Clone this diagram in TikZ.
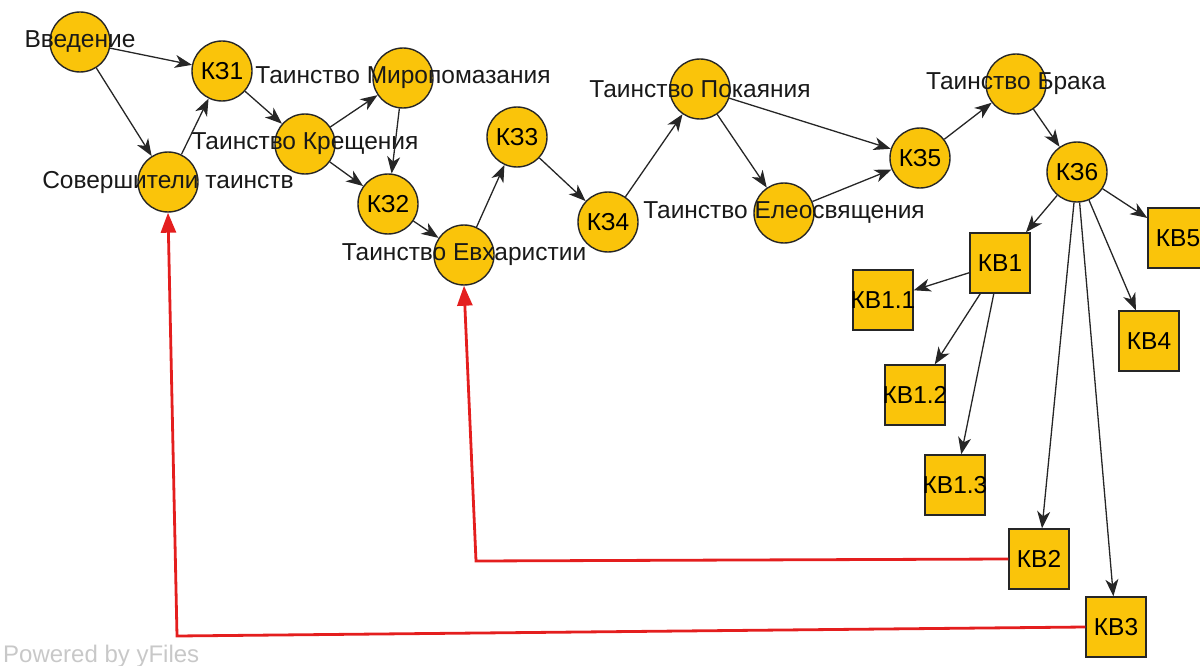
\documentclass[tikz,border=0pt]{standalone}
\usepackage{fontspec}
\setmainfont{Liberation Sans}
\usetikzlibrary{arrows.meta}
\definecolor{zoloto}{RGB}{250,196,10}
\definecolor{krasnyj}{RGB}{228,30,30}
\definecolor{seryj}{RGB}{200,200,200}

\begin{document}
\begin{tikzpicture}[x=1pt, y=-1pt,
    krug/.style={circle, draw=black!85, line width=1.4pt, fill=zoloto, minimum size=60pt, inner sep=0pt, font=\fontsize{24.5}{24.5}\selectfont},
    kvadrat/.style={rectangle, draw=black!85, line width=1.4pt, fill=zoloto, minimum size=60pt, inner sep=0pt, font=\fontsize{24.5}{24.5}\selectfont},
    nadpis/.style={inner sep=0pt, font=\fontsize{24.5}{24.5}\selectfont, text=black!90},
    strelka/.style={-{Stealth[length=17pt, width=13pt, inset=5pt]}, line width=1.3pt, black!85},
    vozvrat/.style={-{Triangle[length=20pt, width=15pt]}, line width=2.8pt, krasnyj}]
    \useasboundingbox (0,0) rectangle (1200,666);
    % Таинства (круги)
    \node[krug, label={[nadpis]center:Введение}] (vved) at (80,42) {};
    \node[krug] (kz1) at (222,71) {КЗ1};
    \node[krug, label={[nadpis]center:Совершители таинств}] (sov) at (168,182) {};
    \node[krug, label={[nadpis]center:Таинство Крещения}] (kresh) at (305,144) {};
    \node[krug, label={[nadpis]center:Таинство Миропомазания}] (mir) at (403,78) {};
    \node[krug] (kz2) at (388,204) {КЗ2};
    \node[krug, label={[nadpis]center:Таинство Евхаристии}] (evh) at (464,255) {};
    \node[krug] (kz3) at (517,137) {КЗ3};
    \node[krug] (kz4) at (608,222) {КЗ4};
    \node[krug, label={[nadpis]center:Таинство Покаяния}] (pok) at (700,89) {};
    \node[krug, label={[nadpis]center:Таинство Елеосвящения}] (eleo) at (784,213) {};
    \node[krug] (kz5) at (920,158) {КЗ5};
    \node[krug, label={[nadpis]center:Таинство Брака}] (brak) at (1016,84) {};
    \node[krug] (kz6) at (1077,172) {КЗ6};
    % Контрольные вопросы (квадраты)
    \node[kvadrat] (kv1) at (1000,263) {КВ1};
    \node[kvadrat] (kv11) at (883,300) {\makebox[0pt]{КВ1.1}};
    \node[kvadrat] (kv12) at (915,395) {\makebox[0pt]{КВ1.2}};
    \node[kvadrat] (kv13) at (955,485) {\makebox[0pt]{КВ1.3}};
    \node[kvadrat] (kv2) at (1039,559) {КВ2};
    \node[kvadrat] (kv3) at (1116,627) {КВ3};
    \node[kvadrat] (kv4) at (1149,341) {КВ4};
    \node[kvadrat] (kv5) at (1178,238) {КВ5};
    % Переходы
    \draw[strelka] (vved) -- (kz1);
    \draw[strelka] (vved) -- (sov);
    \draw[strelka] (sov) -- (kz1);
    \draw[strelka] (kz1) -- (kresh);
    \draw[strelka] (kresh) -- (mir);
    \draw[strelka] (mir) -- (kz2);
    \draw[strelka] (kresh) -- (kz2);
    \draw[strelka] (kz2) -- (evh);
    \draw[strelka] (evh) -- (kz3);
    \draw[strelka] (kz3) -- (kz4);
    \draw[strelka] (kz4) -- (pok);
    \draw[strelka] (pok) -- (kz5);
    \draw[strelka] (pok) -- (eleo);
    \draw[strelka] (eleo) -- (kz5);
    \draw[strelka] (kz5) -- (brak);
    \draw[strelka] (brak) -- (kz6);
    \foreach \v in {kv1,kv2,kv3,kv4,kv5}
        \draw[strelka] (kz6) -- (\v);
    \foreach \v in {kv11,kv12,kv13}
        \draw[strelka] (kv1) -- (\v);
    % Возвраты
    \coordinate (ugol2) at (476,561);
    \coordinate (ugol3) at (177,636);
    \draw[vozvrat] (kv2.west) -- (ugol2) -- (evh.south);
    \draw[vozvrat] (kv3.west) -- (ugol3) -- (sov.south);
    \node[anchor=west, inner sep=0pt, text=seryj, font=\fontsize{24}{24}\selectfont] (yfiles) at (3,656) {Powered by yFiles};
\end{tikzpicture}
\end{document}
